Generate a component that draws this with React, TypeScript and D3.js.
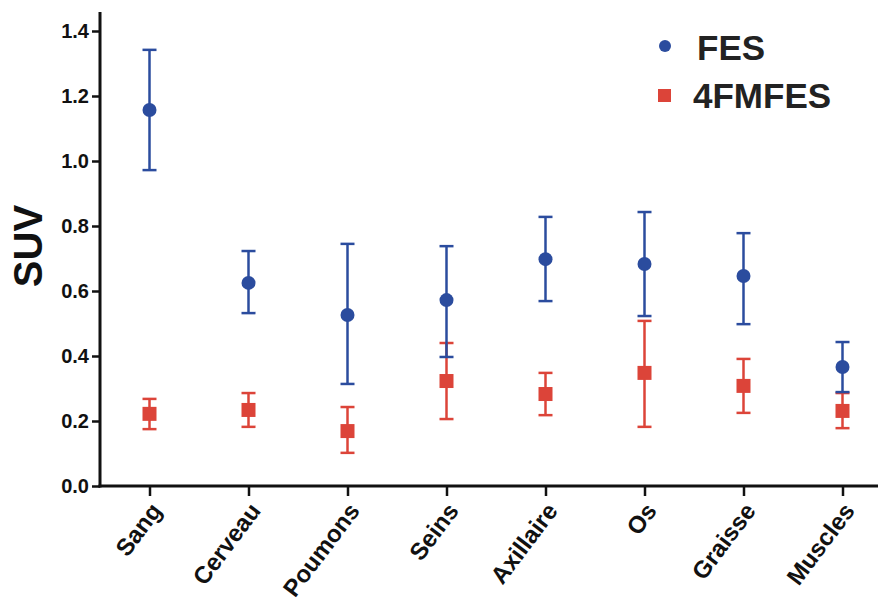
import React, { useEffect, useRef } from 'react';
import * as d3 from 'd3';

const tissues = ['Sang', 'Cerveau', 'Poumons', 'Seins', 'Axillaire', 'Os', 'Graisse', 'Muscles'];

// FES: mean, lower and upper error bar ends
const fesMean = [1.157, 0.625, 0.526, 0.572, 0.698, 0.683, 0.646, 0.366];
const fesLow = [0.972, 0.532, 0.314, 0.397, 0.569, 0.523, 0.498, 0.289];
const fesHigh = [1.342, 0.723, 0.745, 0.738, 0.828, 0.843, 0.778, 0.443];

// 4FMFES
const fmMean = [0.222, 0.234, 0.169, 0.323, 0.283, 0.348, 0.308, 0.231];
const fmLow = [0.175, 0.182, 0.102, 0.206, 0.218, 0.182, 0.225, 0.178];
const fmHigh = [0.268, 0.286, 0.243, 0.44, 0.348, 0.508, 0.391, 0.286];

const yTicks = [0, 0.2, 0.4, 0.6, 0.8, 1.0, 1.2, 1.4];

const BLUE = '#2b4c9e';
const RED = '#dc4439';

const App: React.FC = () => {
  const ref = useRef<SVGSVGElement | null>(null);

  useEffect(() => {
    if (!ref.current) return;
    const svg = d3.select(ref.current);
    svg.selectAll('*').remove();

    const left = 100;
    const bottom = 486;
    const x = d3.scalePoint<string>().domain(tissues).range([left, 892]).padding(0.5);
    const y = d3.scaleLinear().domain([0, 1.4]).range([bottom, 31]);

    const font = 'Arial, "Liberation Sans", Helvetica, sans-serif';

    // Y axis
    const yAxis = svg.append('g')
      .attr('transform', `translate(${left},0)`)
      .call(d3.axisLeft(y).tickValues(yTicks).tickFormat(d3.format('.1f')).tickSizeOuter(0).tickSize(8));
    yAxis.select('.domain').remove();
    yAxis.selectAll('line').attr('stroke', '#111').attr('stroke-width', 2.5);
    yAxis.selectAll('text')
      .attr('x', -11)
      .style('font-family', font)
      .style('font-weight', 'bold')
      .style('font-size', '20px')
      .attr('fill', '#111');

    svg.append('line')
      .attr('x1', left).attr('x2', left)
      .attr('y1', 12).attr('y2', bottom + 1.5)
      .attr('stroke', '#111').attr('stroke-width', 3);

    // X axis
    const xAxis = svg.append('g')
      .attr('transform', `translate(0,${bottom})`)
      .call(d3.axisBottom(x).tickSize(10).tickSizeOuter(0));
    xAxis.select('.domain').remove();
    xAxis.selectAll('line').attr('stroke', '#111').attr('stroke-width', 2.5);
    xAxis.selectAll('text')
      .attr('transform', 'translate(6,20) rotate(-53)')
      .attr('dy', '0.35em')
      .attr('y', 0)
      .style('text-anchor', 'end')
      .style('font-family', font)
      .style('font-weight', 'bold')
      .style('font-size', '24px')
      .attr('fill', '#111');

    svg.append('line')
      .attr('x1', left - 1.5).attr('x2', 878)
      .attr('y1', bottom).attr('y2', bottom)
      .attr('stroke', '#111').attr('stroke-width', 3);

    // Y label
    svg.append('text')
      .attr('transform', `translate(42,246) rotate(-90)`)
      .attr('text-anchor', 'middle')
      .style('font-family', font)
      .style('font-weight', 'bold')
      .style('font-size', '40px')
      .attr('fill', '#111')
      .text('SUV');

    const drawSeries = (mean: number[], low: number[], high: number[], color: string, shape: 'circle' | 'square') => {
      const g = svg.append('g');
      tissues.forEach((t, i) => {
        const cx = x(t) as number;
        g.append('line')
          .attr('x1', cx).attr('x2', cx)
          .attr('y1', y(low[i])).attr('y2', y(high[i]))
          .attr('stroke', color).attr('stroke-width', 2.5);
        [low[i], high[i]].forEach((v) => {
          g.append('line')
            .attr('x1', cx - 7).attr('x2', cx + 7)
            .attr('y1', y(v)).attr('y2', y(v))
            .attr('stroke', color).attr('stroke-width', 2.5);
        });
        if (shape === 'circle') {
          g.append('circle').attr('cx', cx).attr('cy', y(mean[i])).attr('r', 7).attr('fill', color);
        } else {
          g.append('rect')
            .attr('x', cx - 7).attr('y', y(mean[i]) - 7)
            .attr('width', 14).attr('height', 14)
            .attr('fill', color);
        }
      });
    };

    drawSeries(fmMean, fmLow, fmHigh, RED, 'square');
    drawSeries(fesMean, fesLow, fesHigh, BLUE, 'circle');

    // Legend
    const legend = svg.append('g');
    legend.append('circle').attr('cx', 665).attr('cy', 46).attr('r', 6).attr('fill', BLUE);
    legend.append('rect').attr('x', 658).attr('y', 89).attr('width', 13).attr('height', 13).attr('fill', RED);
    legend.append('text')
      .attr('x', 697).attr('y', 60)
      .style('font-family', font).style('font-weight', 'bold').style('font-size', '35px')
      .attr('fill', '#222')
      .text('FES');
    legend.append('text')
      .attr('x', 693).attr('y', 108)
      .style('font-family', font).style('font-weight', 'bold').style('font-size', '35px')
      .attr('fill', '#222')
      .text('4FMFES');
  }, []);

  return <svg ref={ref} width={880} height={607} style={{ display: 'block', position: 'absolute', left: 0, top: 0 }} />;
};

export default App;
